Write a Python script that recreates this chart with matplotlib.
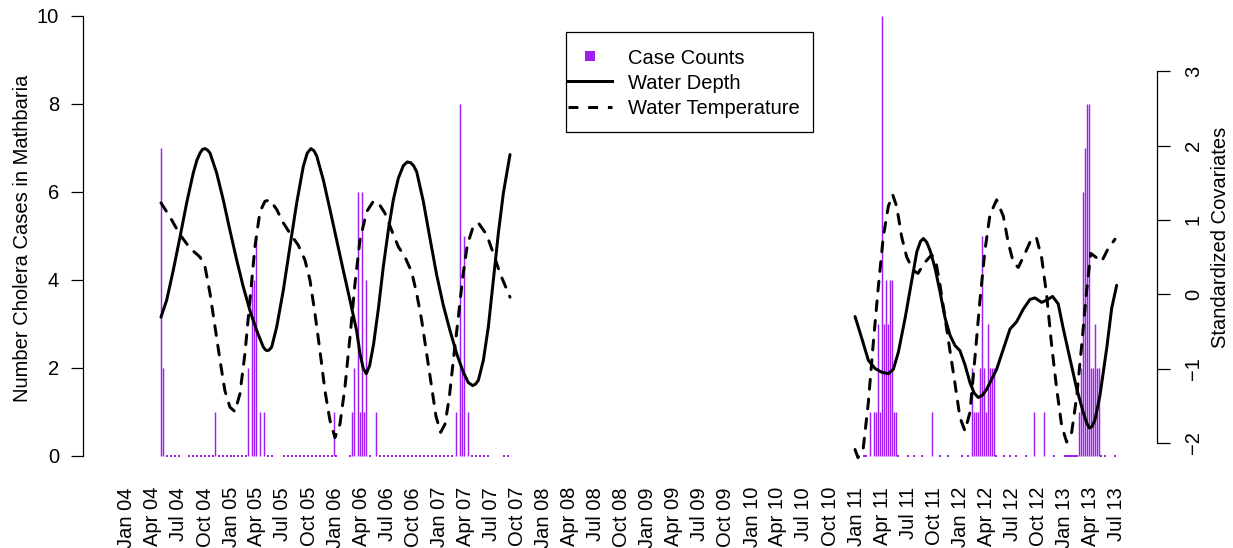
import numpy as np
import pandas as pd
import matplotlib
matplotlib.use("Agg")
import matplotlib.pyplot as plt
from matplotlib.lines import Line2D
from matplotlib.patches import Rectangle

plt.rcParams['font.family'] = ['Liberation Sans', 'DejaVu Sans']

N = None
PURPLE = '#A020F0'

# weekly cholera case counts (None = week without a sample)
start_1 = '2004-04-28'
cases_1 = [7, 2, N, 0, N, 0, N, 0, N, 0,
           N, N, N, N, 0, N, 0, N, 0, N,
           0, N, 0, N, 0, N, 0, 1, N, 0,
           N, 0, N, 0, N, 0, N, 0, N, 0,
           N, 0, N, 0, 2, N, 4, 4, 5, N,
           1, N, 1, N, 0, N, 0, N, N, N,
           N, N, 0, N, 0, N, 0, N, 0, N,
           0, N, 0, N, 0, N, 0, N, 0, N,
           0, N, 0, N, 0, N, 0, 1, 0, N,
           N, N, N, N, N, 0, 1, 2, N, 6,
           1, 6, 1, 4, N, 0, N, N, 1, N,
           0, N, 0, N, 0, N, 0, N, 0, N,
           0, N, 0, N, 0, N, 0, N, 0, N,
           0, N, 0, N, 0, N, 0, N, 0, N,
           0, N, 0, N, 0, N, 0, N, 1, N,
           8, 2, 5, N, 1, N, 0, N, 0, N,
           0, N, 0, N, 0, N, N, N, N, N,
           N, N, 0, N, 0]

start_2 = '2011-01-06'
cases_2 = [0, N, N, 0, 0, N, 1, N, 1, 1,
           3, 1, 10, 3, 4, 3, 4, 4, 1, 1,
           0, N, N, N, N, 0, N, N, 0, N,
           N, N, 0, N, N, N, N, 1, N, N,
           N, 0, N, N, N, 0, N, N, N, N,
           N, N, 0, N, N, 0, N, 2, 1, 1,
           1, 2, 5, 2, 1, 3, 2, 2, 2, 0,
           N, N, N, 0, N, N, 0, N, N, 0,
           N, N, N, N, 0, N, N, N, 1, N,
           N, N, N, 1, N, N, N, N, 0, N,
           N, N, N, N, 0, 0, 0, 0, 0, 0,
           0, 1, 2, 6, 7, 8, 8, 2, 2, 3,
           2, 2, 0, N, 0, N, N, N, N, 0]

# standardized covariates: (decimal year, value)
depth_1 = [(2004.326, -0.31), (2004.381, -0.08), (2004.444, 0.32), (2004.509, 0.77),
           (2004.573, 1.23), (2004.636, 1.63), (2004.670, 1.80), (2004.701, 1.90),
           (2004.725, 1.95), (2004.749, 1.96), (2004.773, 1.94), (2004.797, 1.90),
           (2004.861, 1.63), (2004.924, 1.27), (2004.988, 0.86),
           (2005.053, 0.46), (2005.116, 0.10), (2005.180, -0.22), (2005.245, -0.49),
           (2005.308, -0.71), (2005.330, -0.75), (2005.346, -0.76), (2005.365, -0.75),
           (2005.389, -0.71), (2005.437, -0.44),
           (2005.500, 0.05), (2005.564, 0.64), (2005.629, 1.23), (2005.692, 1.72),
           (2005.730, 1.90), (2005.766, 1.96), (2005.795, 1.93), (2005.821, 1.86),
           (2005.884, 1.54), (2005.948, 1.14),
           (2006.012, 0.73), (2006.076, 0.32), (2006.140, -0.08), (2006.204, -0.49),
           (2006.236, -0.80), (2006.268, -1.00), (2006.297, -1.07), (2006.329, -0.96),
           (2006.367, -0.67), (2006.415, -0.17), (2006.460, 0.37), (2006.508, 0.86),
           (2006.556, 1.27), (2006.604, 1.56), (2006.652, 1.73), (2006.690, 1.78),
           (2006.723, 1.77), (2006.750, 1.73),
           (2006.780, 1.65), (2006.844, 1.25), (2006.908, 0.75), (2006.972, 0.26),
           (2007.036, -0.15), (2007.100, -0.49), (2007.164, -0.80), (2007.228, -1.05),
           (2007.276, -1.19), (2007.318, -1.23), (2007.345, -1.21), (2007.372, -1.16),
           (2007.420, -0.89),
           (2007.468, -0.44), (2007.516, 0.19), (2007.564, 0.82), (2007.612, 1.36),
           (2007.676, 1.88)]

temp_1 = [(2004.326, 1.23), (2004.413, 1.04), (2004.509, 0.80), (2004.605, 0.62),
          (2004.701, 0.50), (2004.749, 0.37), (2004.797, 0.01), (2004.845, -0.44),
          (2004.893, -0.89), (2004.940, -1.30), (2004.988, -1.52), (2005.036, -1.58),
          (2005.084, -1.34), (2005.132, -0.80), (2005.180, -0.08), (2005.228, 0.64),
          (2005.276, 1.11), (2005.324, 1.25), (2005.372, 1.27), (2005.437, 1.14),
          (2005.500, 0.96), (2005.564, 0.82), (2005.644, 0.66), (2005.708, 0.46),
          (2005.756, 0.19), (2005.804, -0.26), (2005.852, -0.76), (2005.900, -1.30),
          (2005.948, -1.70), (2005.996, -1.93), (2006.044, -1.75), (2006.092, -1.25),
          (2006.140, -0.58), (2006.188, 0.14), (2006.236, 0.73), (2006.300, 1.11),
          (2006.364, 1.25), (2006.412, 1.23), (2006.476, 1.09), (2006.540, 0.86),
          (2006.604, 0.64), (2006.668, 0.50), (2006.732, 0.30), (2006.780, 0.01),
          (2006.828, -0.35), (2006.876, -0.80), (2006.924, -1.25), (2006.965, -1.64),
          (2007.010, -1.86), (2007.052, -1.75), (2007.093, -1.39), (2007.132, -0.89),
          (2007.180, -0.31), (2007.222, 0.23), (2007.266, 0.66), (2007.318, 0.89),
          (2007.372, 0.96), (2007.452, 0.80), (2007.516, 0.55), (2007.580, 0.28),
          (2007.676, -0.04)]

depth_2 = [(2010.987, -0.30), (2011.051, -0.59), (2011.115, -0.89), (2011.179, -1.00),
           (2011.243, -1.05), (2011.307, -1.07), (2011.355, -1.01), (2011.403, -0.78),
           (2011.468, -0.32), (2011.532, 0.19), (2011.580, 0.57), (2011.615, 0.71),
           (2011.643, 0.75), (2011.675, 0.70),
           (2011.707, 0.59), (2011.755, 0.35), (2011.803, 0.03), (2011.851, -0.32),
           (2011.898, -0.55), (2011.946, -0.69), (2011.994, -0.76), (2012.042, -0.95),
           (2012.090, -1.19), (2012.130, -1.33), (2012.170, -1.39), (2012.210, -1.36),
           (2012.250, -1.28), (2012.346, -1.01),
           (2012.410, -0.74), (2012.474, -0.47), (2012.538, -0.37), (2012.602, -0.20),
           (2012.666, -0.07), (2012.714, -0.05), (2012.778, -0.11), (2012.826, -0.08),
           (2012.883, -0.03), (2012.937, -0.13), (2012.985, -0.46), (2013.050, -0.87),
           (2013.114, -1.27), (2013.177, -1.59), (2013.210, -1.73), (2013.235, -1.80),
           (2013.262, -1.78), (2013.290, -1.69),
           (2013.338, -1.36), (2013.402, -0.73), (2013.450, -0.19), (2013.498, 0.12)]

temp_2 = [(2010.987, -2.09), (2011.015, -2.20), (2011.066, -2.07), (2011.114, -1.47),
          (2011.162, -0.66), (2011.210, 0.09), (2011.258, 0.77), (2011.306, 1.18),
          (2011.348, 1.34), (2011.387, 1.18), (2011.435, 0.77), (2011.483, 0.50),
          (2011.546, 0.32), (2011.591, 0.28), (2011.658, 0.43), (2011.723, 0.53),
          (2011.764, 0.43), (2011.803, 0.12), (2011.851, -0.32), (2011.898, -0.76),
          (2011.946, -1.20), (2011.994, -1.66), (2012.042, -1.84), (2012.090, -1.59),
          (2012.138, -0.85), (2012.186, -0.08), (2012.234, 0.59), (2012.282, 1.07),
          (2012.346, 1.27), (2012.410, 1.05), (2012.458, 0.69), (2012.506, 0.43),
          (2012.554, 0.36), (2012.618, 0.55), (2012.682, 0.75), (2012.728, 0.76),
          (2012.778, 0.49), (2012.826, -0.01), (2012.874, -0.69), (2012.922, -1.27),
          (2012.970, -1.77), (2013.018, -1.99), (2013.066, -1.86), (2013.114, -1.38),
          (2013.162, -0.69), (2013.210, 0.05), (2013.249, 0.55), (2013.306, 0.49),
          (2013.354, 0.44), (2013.418, 0.62), (2013.482, 0.74)]

quarters = pd.date_range('2004-01-01', '2013-07-01', freq='QS')
quarter_labels = [d.strftime('%b %y') for d in quarters]


def dec_year(idx):
    return np.asarray(idx.year + (idx.dayofyear - 1) / 365.25, dtype=float)


fig = plt.figure(figsize=(12.33, 5.48), dpi=100)
W, H = 1233, 548
ax = fig.add_axes([83 / W, (H - 474) / H, 1074 / W, 474 / H])

for start, counts in [(start_1, cases_1), (start_2, cases_2)]:
    t = dec_year(pd.date_range(start, periods=len(counts), freq='7D'))
    c = np.array([np.nan if v is None else v for v in counts], dtype=float)
    pos = c > 0
    zero = c == 0
    ax.vlines(t[pos], 0, c[pos], color=PURPLE, lw=1.05)
    ax.plot(t[zero], c[zero], ls='none', marker='s', ms=1.5, mew=0, color=PURPLE)

ax.set_xlim(2003.578, 2013.885)
ax.set_ylim(-0.416, 10.357)
ax.set_xticks(dec_year(quarters))
ax.set_xticklabels(quarter_labels, rotation=90)
ax.set_yticks([0, 2, 4, 6, 8, 10])
ax.tick_params(axis='x', length=0, pad=9.4, labelsize=14.5)
ax.tick_params(axis='y', length=8.6, width=0.9, pad=8.6, labelsize=14.5)
for s in ['top', 'right', 'bottom']:
    ax.spines[s].set_visible(False)
ax.spines['left'].set_bounds(0, 10)
ax.spines['left'].set_linewidth(0.9)

ax2 = ax.twinx()
ax2.set_ylim(-2.42, 3.96)
for seg in [depth_1, depth_2]:
    a = np.array(seg)
    ax2.plot(a[:, 0], a[:, 1], color='black', lw=2.15, solid_capstyle='round',
             solid_joinstyle='round')
for seg in [temp_1, temp_2]:
    a = np.array(seg)
    ax2.plot(a[:, 0], a[:, 1], color='black', lw=2.15, dashes=(3.3, 3.3),
             dash_capstyle='round', dash_joinstyle='round')
ax2.set_yticks([-2, -1, 0, 1, 2, 3])
ax2.tick_params(axis='y', length=9.4, width=0.9, pad=10, labelsize=14.5,
                labelrotation=90)
plt.setp(ax2.get_yticklabels(), va='center')
for s in ['top', 'left', 'bottom']:
    ax2.spines[s].set_visible(False)
ax2.spines['right'].set_bounds(-2, 3)
ax2.spines['right'].set_linewidth(0.9)

fig.text(23 / W, 1 - 238 / H, 'Number Cholera Cases in Mathbaria', rotation=90,
         ha='center', va='center', fontsize=14.5)
fig.text(1221 / W, 1 - 237 / H, 'Standardized Covariates', rotation=90,
         ha='center', va='center', fontsize=14.5)

handles = [Line2D([], [], ls='none', marker='s', ms=7.5, mew=0, color=PURPLE),
           Line2D([], [], color='black', lw=2.15),
           Line2D([], [], color='black', lw=2.15, dashes=(3.3, 3.3))]
ax2.legend(handles, ['Case Counts', 'Water Depth', 'Water Temperature'],
           loc='upper left', bbox_to_anchor=(568 / W, 1 - 48.5 / H),
           bbox_transform=fig.transFigure, frameon=False, borderpad=0,
           borderaxespad=0, handlelength=2.2, handletextpad=0.8,
           labelspacing=0.3, fontsize=14.5)
fig.patches.append(Rectangle((566 / W, 1 - 132 / H), 247 / W, 100 / H,
                             transform=fig.transFigure, fill=False,
                             edgecolor='black', lw=0.9))

fig.savefig('out.png', dpi=100)
